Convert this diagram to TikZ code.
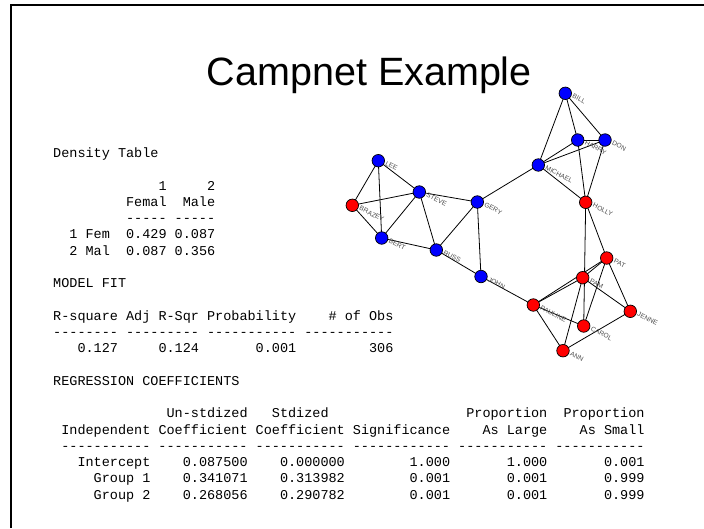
\documentclass[tikz,border=0pt]{standalone}
\usepackage{fontspec}
\setmainfont{Liberation Sans}
\setmonofont{Liberation Mono}
\usetikzlibrary{backgrounds}
\newlength\cw
\setlength\cw{8.1pt}
\newcommand\sk[1]{\hspace*{#1\cw}}
\newcommand\dd[1]{\foreach\i in {1,...,#1}{-\kern0pt\relax}}
\tikzset{
  pers/.style={circle, draw=black, line width=0.7pt, minimum size=12.5pt, inner sep=0pt},
  fem/.style={pers, fill=red},
  mal/.style={pers, fill=blue},
  lab/.style={font=\fontsize{6.6}{7}\selectfont, text=black!70, inner sep=0pt, anchor=west, rotate=-27},
  tie/.style={line width=0.8pt},
  mono/.style={font=\fontsize{13.5}{16.27}\selectfont\ttfamily\frenchspacing, anchor=base west, inner sep=0pt},
  frame/.style={line width=2pt},
}
\begin{document}
\begin{tikzpicture}[x=1pt,y=-1pt]
\useasboundingbox (0,0) rectangle (704,528);
\coordinate (fa) at (11,528);
\coordinate (fb) at (11,5);
\coordinate (fc) at (704,5);
\draw[frame] (fa) -- (fb) -- (fc);

\node[font=\fontsize{39.5}{44}\selectfont, anchor=base east, inner sep=0pt] (title) at (532,85) {Campnet Example};

% people
\node[mal] (LEE) at (378.3,160.7) {};
\node[fem] (BRAZEY) at (352.3,205.3) {};
\node[mal] (STEVE) at (419.3,192) {};
\node[mal] (BERT) at (381.7,238) {};
\node[mal] (RUSS) at (436.3,250) {};
\node[mal] (GERY) at (477.3,202) {};
\node[mal] (JOHN) at (481,276.5) {};
\node[mal] (BILL) at (565.3,93.3) {};
\node[mal] (HARRY) at (577.7,140) {};
\node[mal] (DON) at (605,140) {};
\node[mal] (MICHAEL) at (538.3,165) {};
\node[fem] (HOLLY) at (585.7,202.3) {};
\node[fem] (PAT) at (606.7,258) {};
\node[fem] (PAM) at (582.7,277.7) {};
\node[fem] (PAULINE) at (533.3,305) {};
\node[fem] (CAROL) at (583.7,326) {};
\node[fem] (JENNE) at (630.3,311.3) {};
\node[fem] (ANN) at (563,350.7) {};

\begin{scope}[on background layer]
\foreach \a/\b in {LEE/BRAZEY, LEE/BERT, LEE/STEVE, BRAZEY/STEVE, BRAZEY/BERT, BERT/STEVE,
  STEVE/RUSS, STEVE/GERY, BERT/RUSS, RUSS/GERY, RUSS/JOHN, GERY/JOHN, GERY/MICHAEL,
  BILL/MICHAEL, BILL/HARRY, BILL/DON, HARRY/DON, HARRY/MICHAEL, DON/MICHAEL,
  MICHAEL/HOLLY, HARRY/HOLLY, DON/HOLLY, HOLLY/CAROL, HOLLY/PAT, PAT/PAM, PAT/CAROL,
  PAT/JENNE, PAT/PAULINE, PAM/PAULINE, PAM/JENNE, PAM/ANN, PAULINE/CAROL, PAULINE/ANN,
  PAULINE/JOHN, ANN/JENNE}
  \draw[tie] (\a.center) -- (\b.center);
\end{scope}

% labels
\foreach \n in {LEE,BRAZEY,STEVE,BERT,RUSS,GERY,JOHN,BILL,HARRY,DON,MICHAEL,HOLLY,PAT,PAM,PAULINE,CAROL,JENNE,ANN}
  \node[lab] (l\n) at ([xshift=7.5pt,yshift=-2.5pt]\n.center) {\n};

% output text
\node[mono] (t0) at (53,157.5) {Density Table};
\node[mono] (t2) at (53,190.0) {\sk{13}1\sk{5}2};
\node[mono] (t3) at (53,206.3) {\sk{9}Femal\sk{2}Male};
\node[mono] (t4) at (53,222.6) {\sk{9}\dd{5}\sk{1}\dd{5}};
\node[mono] (t5) at (53,238.9) {\sk{2}1 Fem\sk{2}0.429 0.087};
\node[mono] (t6) at (53,255.1) {\sk{2}2 Mal\sk{2}0.087 0.356};
\node[mono] (t8) at (53,287.7) {MODEL FIT};
\node[mono] (t10) at (53,320.2) {R-square Adj R-Sqr Probability\sk{4}\# of Obs};
\node[mono] (t11) at (53,336.5) {\dd{8}\sk{1}\dd{9}\sk{1}\dd{11}\sk{1}\dd{11}};
\node[mono] (t12) at (53,352.7) {\sk{3}0.127\sk{5}0.124\sk{7}0.001\sk{9}306};
\node[mono] (t14) at (53,385.3) {REGRESSION COEFFICIENTS};
\node[mono] (t16) at (53,417.8) {\sk{14}Un-stdized\sk{3}Stdized\sk{17}Proportion\sk{2}Proportion};
\node[mono] (t17) at (53,434.1) {\sk{1}Independent Coefficient Coefficient Significance\sk{4}As Large\sk{4}As Small};
\node[mono] (t18) at (53,450.4) {\sk{1}\dd{11}\sk{1}\dd{11}\sk{1}\dd{11}\sk{1}\dd{12}\sk{1}\dd{11}\sk{1}\dd{11}};
\node[mono] (t19) at (53,466.6) {\sk{3}Intercept\sk{4}0.087500\sk{4}0.000000\sk{8}1.000\sk{7}1.000\sk{7}0.001};
\node[mono] (t20) at (53,482.9) {\sk{5}Group 1\sk{4}0.341071\sk{4}0.313982\sk{8}0.001\sk{7}0.001\sk{7}0.999};
\node[mono] (t21) at (53,499.2) {\sk{5}Group 2\sk{4}0.268056\sk{4}0.290782\sk{8}0.001\sk{7}0.001\sk{7}0.999};
\end{tikzpicture}
\end{document}
